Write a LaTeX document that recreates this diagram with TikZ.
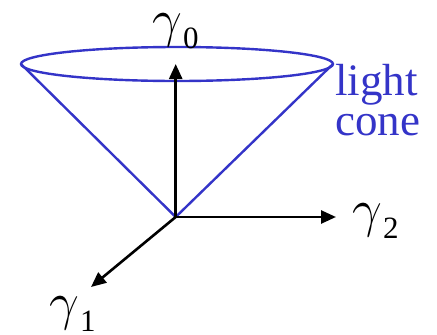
\RequirePackage{fix-cm}
\documentclass[tikz,border=0pt]{standalone}
\usepackage{fontspec}
\setmainfont{Liberation Serif}
\usetikzlibrary{arrows.meta}
\definecolor{conecol}{RGB}{52,52,200}
\newcommand{\gsub}[1]{\(\gamma\)\kern1pt\raisebox{-12pt}{\fontsize{31}{31}\selectfont #1}}
\begin{document}
\begin{tikzpicture}[x=1pt,y=-1pt,
  axis/.style={line width=2.6pt,-{Triangle[length=15pt,width=13pt]}},
  conel/.style={conecol,line width=2.4pt},
  lbl/.style={inner sep=0pt,anchor=base west,font=\fontsize{53}{53}\selectfont},
  conelbl/.style={inner sep=0pt,anchor=base west,text=conecol,font=\fontsize{45}{45}\selectfont}]
\useasboundingbox (0,0) rectangle (437,335);
\coordinate (o) at (175.7,217);
\coordinate (l) at (21,64);
\coordinate (r) at (333,64);
\coordinate (t0) at (175.7,64);
\coordinate (t1) at (91,287);
\coordinate (t2) at (336,217);
\draw[conel,line join=round] (l) -- (o) -- (r);
\draw[conel] (177,64) ellipse [x radius=156, y radius=17];
\draw[axis] (o) -- (t0);
\draw[axis] (o) -- (t2);
\draw[axis] (o) -- (t1);
\node[lbl] (g0) at (152,36) {\gsub{0}};
\node[lbl] (g2) at (352,226) {\gsub{2}};
\node[lbl] (g1) at (49,319) {\gsub{1}};
\node[conelbl] (light) at (335,95) {light};
\node[conelbl] (cone) at (335,135) {cone};
\end{tikzpicture}
\end{document}
